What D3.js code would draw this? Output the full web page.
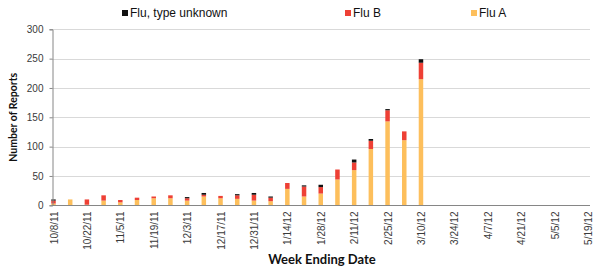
<!DOCTYPE html>
<html lang="en">
<head>
<meta charset="UTF-8">
<title>Flu reports by week</title>
<style>
  body { margin: 0; background: #fff; }
  svg { display: block; }
  .tick text { font-family: "Liberation Sans", Arial, sans-serif; font-size: 10px; fill: #3a3a3a; }
  .title { font-family: Lato, "Open Sans", sans-serif; font-weight: bold; fill: #111; }
  .legend text { font-family: "Liberation Sans", Arial, sans-serif; font-size: 12px; fill: #111; }
</style>
<script src="https://d3js.org/d3.v7.min.js"></script>
</head>
<body>
<div class="chart"></div>
<script>
// weekly counts
const weeks = ['10/8/11','10/15/11','10/22/11','10/29/11','11/5/11','11/12/11','11/19/11','11/26/11',
  '12/3/11','12/10/11','12/17/11','12/24/11','12/31/11','1/7/12','1/14/12','1/21/12','1/28/12',
  '2/4/12','2/11/12','2/18/12','2/25/12','3/3/12','3/10/12','3/17/12','3/24/12','3/31/12',
  '4/7/12','4/14/12','4/21/12','4/28/12','5/5/12','5/12/12','5/19/12']
const fluA = [3,10,1,8,5,9,12,12,8,15,12,11,8,7,28,15,20,44,60,96,143,111,215,0,0,0,0,0,0,0,0,0,0]
const fluB = [5,0,9,9,4,4,3,5,4,3,4,6,10,6,10,17,11,17,13,14,19,15,28,0,0,0,0,0,0,0,0,0,0]
const fluUnknown = [2,0,0,0,0,0,0,0,2,3,0,2,3,2,0,2,4,0,5,3,2,0,6,0,0,0,0,0,0,0,0,0,0]
const tickLabels = weeks.filter((d, i) => i % 2 === 0)
const yTicks = [0, 50, 100, 150, 200, 250, 300]

const series = [
  { key: 'A', name: 'Flu A', color: '#FDBF5C', values: fluA },
  { key: 'B', name: 'Flu B', color: '#EE4035', values: fluB },
  { key: 'U', name: 'Flu, type unknown', color: '#111111', values: fluUnknown }
]

const rows = weeks.map((w, i) => ({ week: w, A: fluA[i], B: fluB[i], U: fluUnknown[i] }))

const width = 600, height = 270
const svg = d3.select('.chart').append('svg')
  .attr('width', width).attr('height', height)

const x = d3.scalePoint().domain(weeks).range([53.5, 588])
const y = d3.scaleLinear().domain([0, 300]).range([205.3, 29.3])

// gridlines
svg.append('g')
  .selectAll('line').data(yTicks.slice(1)).join('line')
  .attr('x1', 52).attr('x2', 590)
  .attr('y1', d => Math.round(y(d)) + 0.5).attr('y2', d => Math.round(y(d)) + 0.5)
  .attr('stroke', '#d9d9d9')

// stacked bars
const stacked = d3.stack().keys(['A', 'B', 'U'])(rows)
const colorOf = { A: '#FDBF5C', B: '#EE4035', U: '#111111' }
const barW = 4.5
svg.append('g').selectAll('g').data(stacked).join('g')
  .attr('fill', d => colorOf[d.key])
  .selectAll('rect').data(d => d.filter(s => s[1] > s[0])).join('rect')
  .attr('x', d => x(d.data.week) - barW / 2)
  .attr('width', barW)
  .attr('y', d => y(d[1]))
  .attr('height', d => y(d[0]) - y(d[1]))

// y axis
const yAxis = svg.append('g')
  .attr('transform', 'translate(52.5,0)')
  .call(d3.axisLeft(y).tickValues(yTicks).tickSize(3).tickPadding(6))
yAxis.select('.domain').attr('stroke', '#868686')
yAxis.selectAll('.tick line').attr('stroke', '#868686')

// x axis
const xAxis = svg.append('g')
  .attr('transform', `translate(0,${Math.round(y(0)) + 0.5})`)
  .call(d3.axisBottom(x).tickValues(tickLabels).tickSize(0).tickSizeOuter(0))
xAxis.select('.domain').attr('stroke', '#868686').attr('d', 'M52,0H590')
xAxis.selectAll('.tick text')
  .attr('transform', 'rotate(-90)')
  .attr('text-anchor', 'end')
  .attr('x', -6).attr('y', 0).attr('dy', '0.35em')

// axis titles
svg.append('text').attr('class', 'title')
  .attr('x', 322).attr('y', 264).attr('text-anchor', 'middle')
  .style('font-size', '13px')
  .text('Week Ending Date')
svg.append('text').attr('class', 'title')
  .attr('transform', `translate(17,${(y(0) + y(300)) / 2}) rotate(-90)`)
  .attr('text-anchor', 'middle')
  .style('font-size', '10.5px')
  .text('Number of Reports')

// legend
const legendPos = { U: 122, B: 345, A: 471 }
const legend = svg.append('g').attr('class', 'legend')
  .selectAll('g').data(series).join('g')
  .attr('transform', d => `translate(${legendPos[d.key]},17)`)
legend.append('rect').attr('x', 0).attr('y', -7).attr('width', 6).attr('height', 6).attr('fill', d => d.color)
legend.append('text').attr('x', 8).attr('y', 0).text(d => d.name)
</script>
</body>
</html>
